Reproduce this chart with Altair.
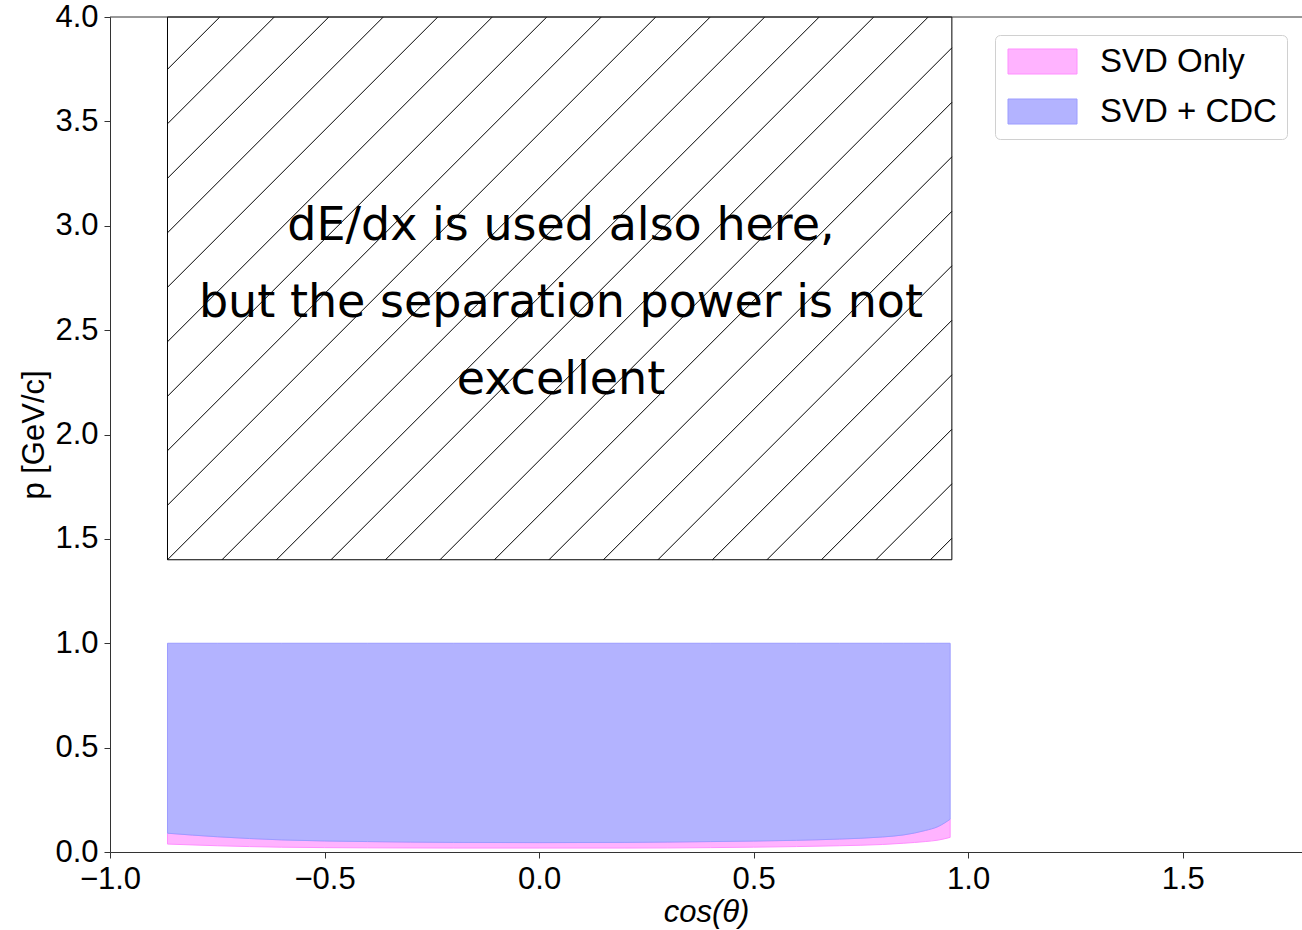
import altair as alt
import pandas as pd

# Momentum thresholds along cos(theta) for the two tracking configurations
cos_theta = [-0.866, -0.75, -0.6, -0.4, -0.2, 0.0, 0.2, 0.4, 0.6, 0.7, 0.8, 0.85, 0.9, 0.93, 0.958]
pmin_svd_cdc = [0.090, 0.073, 0.058, 0.050, 0.046, 0.045, 0.046, 0.050, 0.056, 0.062, 0.072, 0.082, 0.103, 0.122, 0.157]
pmin_svd_only = [0.038, 0.030, 0.023, 0.020, 0.019, 0.019, 0.019, 0.021, 0.026, 0.030, 0.036, 0.042, 0.050, 0.057, 0.070]
p_max = 1.0

series_names = ["SVD Only", "SVD + CDC"]
series_fill = ["#ffb3ff", "#b3b3ff"]
series_edge = ["#ff8fff", "#9c9cff"]

# Region where dE/dx is available but with poor separation
dedx_cos = [-0.866, 0.962]
dedx_p = [1.4, 4.0]
note_lines = ["dE/dx is used also here,", "but the separation power is not", "excellent"]
note_cos, note_p = 0.051, 3.0  # anchor of the first text line

x_domain = [-1.0, 1.778]
y_domain = [0.0, 4.0]
W, H = 1192, 835
FONT = "Liberation Sans"

# Band table: SVD-only band sits below the SVD + CDC band
rows = []
for c, lo_cdc, lo_svd in zip(cos_theta, pmin_svd_cdc, pmin_svd_only):
    rows.append({"cos": c, "series": "SVD Only", "lo": lo_svd, "hi": lo_cdc})
    rows.append({"cos": c, "series": "SVD + CDC", "lo": lo_cdc, "hi": p_max})
bands = pd.DataFrame(rows)

# Diagonal hatching inside the dE/dx box, drawn at 45 degrees on screen
slope = (W / (x_domain[1] - x_domain[0])) / (H / (y_domain[1] - y_domain[0]))
spacing = 0.127
x0, x1 = dedx_cos
y0, y1 = dedx_p
segs = []
k = -int((y1 - y0) / slope / spacing) - 1
while True:
    xb = x0 + k * spacing
    if xb >= x1:
        break
    if xb >= x0:
        sx, sy = xb, y0
    else:
        sx, sy = x0, y0 + slope * (x0 - xb)
    xt = xb + (y1 - y0) / slope
    if xt <= x1:
        ex, ey = xt, y1
    else:
        ex, ey = x1, y0 + slope * (x1 - xb)
    if sy < y1 and ex > sx:
        segs.append({"x": sx, "y": sy, "x2": ex, "y2": ey})
    k += 1
hatch = pd.DataFrame(segs)

xs = alt.Scale(domain=x_domain, nice=False, zero=False)
ys = alt.Scale(domain=y_domain, nice=False, zero=False)

color_scale = alt.Scale(domain=series_names, range=series_fill)
edge_scale = alt.Scale(domain=series_names, range=series_edge)

area = alt.Chart(bands).mark_area(strokeWidth=1, interpolate="monotone").encode(
    x=alt.X("cos:Q", scale=xs, title="cos(θ)",
            axis=alt.Axis(values=[-1.0, -0.5, 0.0, 0.5, 1.0, 1.5], format=".1f")),
    y=alt.Y("lo:Q", scale=ys, title="p [GeV/c]",
            axis=alt.Axis(values=[0, 0.5, 1.0, 1.5, 2.0, 2.5, 3.0, 3.5, 4.0], format=".1f")),
    y2="hi:Q",
    color=alt.Color("series:N", scale=color_scale, sort=series_names,
                    legend=alt.Legend(title=None)),
    stroke=alt.Stroke("series:N", scale=edge_scale, legend=None),
    detail="series:N",
)

box_df = pd.DataFrame({"x": [dedx_cos[0]], "x2": [dedx_cos[1]], "y": [dedx_p[0]], "y2": [dedx_p[1]]})
box = alt.Chart(box_df).mark_rect(fill=None, stroke="black", strokeWidth=1).encode(
    x=alt.X("x:Q", scale=xs), x2="x2:Q",
    y=alt.Y("y:Q", scale=ys), y2="y2:Q",
)

hatch_lines = alt.Chart(hatch).mark_rule(color="black", strokeWidth=1).encode(
    x=alt.X("x:Q", scale=xs), x2="x2:Q",
    y=alt.Y("y:Q", scale=ys), y2="y2:Q",
)

note_df = pd.DataFrame({"cos": [note_cos], "p": [note_p], "text": ["\n".join(note_lines)]})
note = alt.Chart(note_df).mark_text(
    font="DejaVu Sans", fontSize=46, lineBreak="\n", lineHeight=77,
    align="center", baseline="middle", color="black",
).encode(
    x=alt.X("cos:Q", scale=xs), y=alt.Y("p:Q", scale=ys), text="text:N"
)

top_df = pd.DataFrame({"x": [x_domain[0]], "x2": [x_domain[1]], "y": [y_domain[1]]})
top_spine = alt.Chart(top_df).mark_rule(color="#333333", strokeWidth=1).encode(
    x=alt.X("x:Q", scale=xs), x2="x2:Q", y=alt.Y("y:Q", scale=ys)
)

chart = alt.layer(area, box, hatch_lines, note, top_spine).properties(
    width=W, height=H,
    autosize=alt.AutoSizeParams(type="none"),
    padding={"left": 110, "top": 17, "right": 0, "bottom": 78},
).configure_view(stroke=None).configure_axis(
    grid=False, labelFlush=False,
    domainColor="#333333", domainWidth=1,
    tickColor="#333333", tickSize=6, tickWidth=1,
    labelFont=FONT, labelFontSize=31, labelColor="black",
    titleFont=FONT, titleFontSize=31, titleColor="black", titleFontWeight="normal",
).configure_axisX(
    labelPadding=6, titlePadding=3, titleFontStyle="italic",
).configure_axisY(
    labelPadding=6, titlePadding=4,
).configure_legend(
    orient="none", legendX=885, legendY=18,
    padding=10, strokeColor="#d0d0d0", fillColor="white", cornerRadius=5,
    labelFont=FONT, labelFontSize=33, labelColor="black",
    symbolType="M-2.76,-1H2.76V1H-2.76Z", symbolSize=625, symbolStrokeWidth=1,
    symbolOffset=21, labelOffset=41,
    rowPadding=16, labelLimit=400,
)

chart.save("out.html", embed_options={"renderer": "svg", "actions": False})
